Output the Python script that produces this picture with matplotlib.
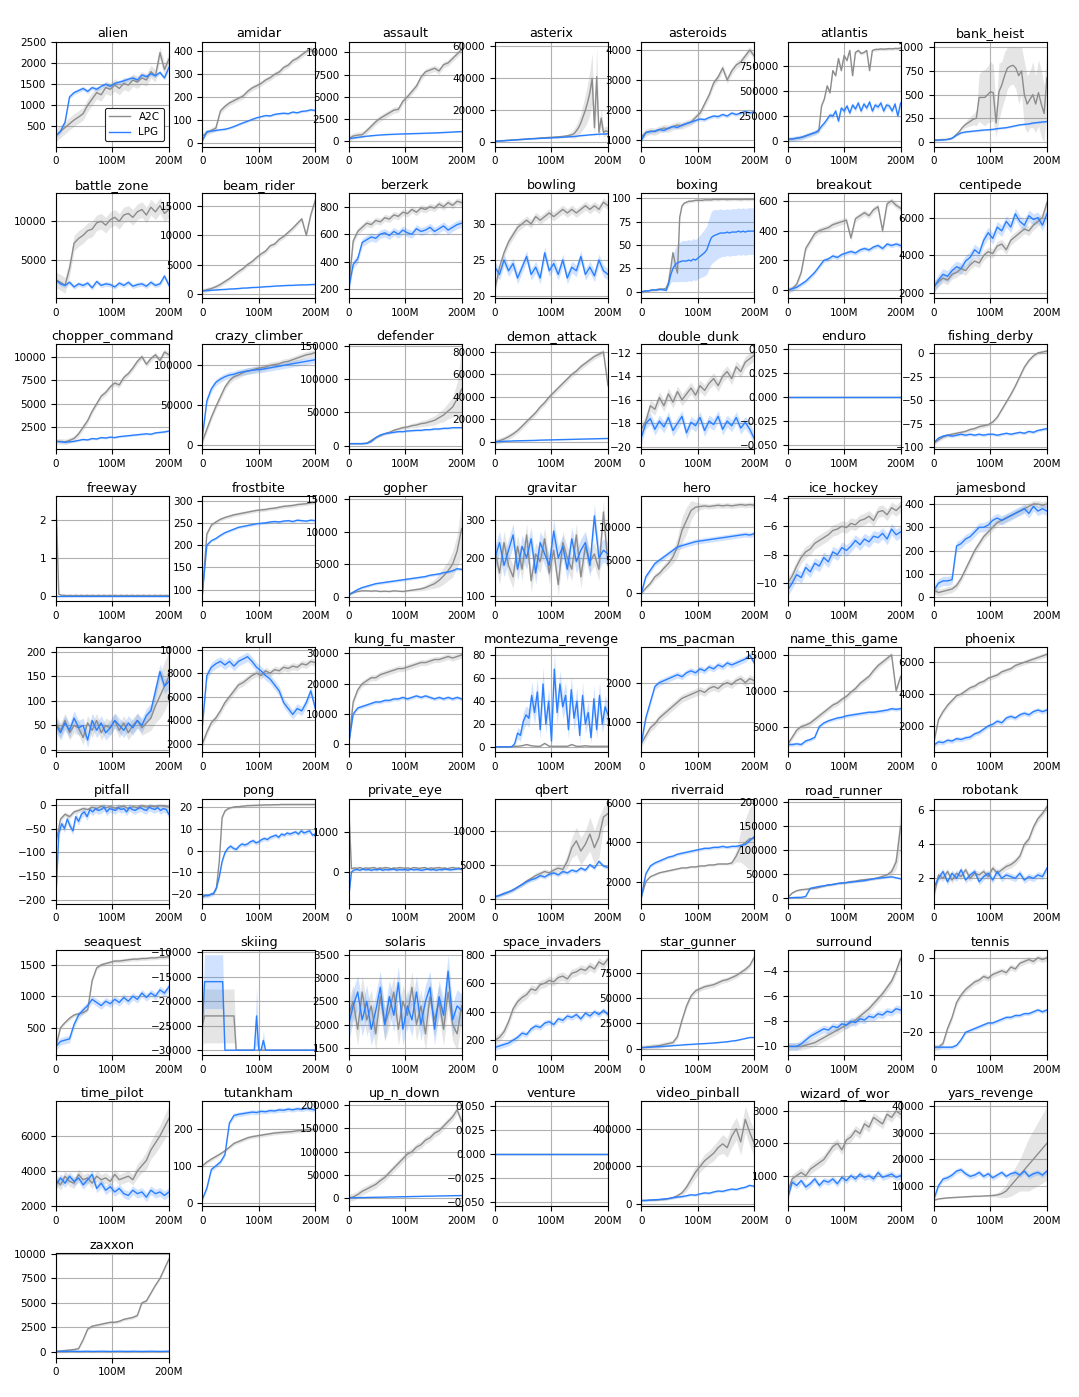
import numpy as np
import matplotlib
matplotlib.use("Agg")
import matplotlib.pyplot as plt

GAMES = ["alien", "amidar", "assault", "asterix", "asteroids", "atlantis", "bank_heist",
         "battle_zone", "beam_rider", "berzerk", "bowling", "boxing", "breakout", "centipede",
         "chopper_command", "crazy_climber", "defender", "demon_attack", "double_dunk", "enduro", "fishing_derby",
         "freeway", "frostbite", "gopher", "gravitar", "hero", "ice_hockey", "jamesbond",
         "kangaroo", "krull", "kung_fu_master", "montezuma_revenge", "ms_pacman", "name_this_game", "phoenix",
         "pitfall", "pong", "private_eye", "qbert", "riverraid", "road_runner", "robotank",
         "seaquest", "skiing", "solaris", "space_invaders", "star_gunner", "surround", "tennis",
         "time_pilot", "tutankham", "up_n_down", "venture", "video_pinball", "wizard_of_wor", "yars_revenge",
         "zaxxon"]
LEGEND_LABELS = ["A2C", "LPG"]
X_TICKS = [0, 100e6, 200e6]
X_TICK_LABELS = ["0", "100M", "200M"]
X_MAX = 200e6

# ---------------- data (each series spans 0..200M steps evenly) ----------------
alien_a2c = [280, 380, 470, 560, 650, 720, 800, 1000, 1150, 1300, 1250, 1420, 1380, 1480, 1400, 1520, 1480, 1600, 1550, 1650, 1600, 1800, 1700, 2250, 1850, 2100]
alien_lpg = [280, 380, 600, 1200, 1300, 1350, 1400, 1330, 1420, 1380, 1450, 1500, 1450, 1520, 1550, 1580, 1620, 1650, 1600, 1720, 1680, 1750, 1700, 1780, 1650, 1900]
alien_sd = [150, 50]

amidar_a2c = [30, 45, 55, 65, 140, 160, 175, 185, 195, 205, 225, 240, 250, 260, 275, 285, 300, 310, 330, 340, 360, 370, 385, 400, 410, 395]
amidar_lpg = [10, 50, 52, 55, 58, 60, 65, 72, 80, 88, 95, 103, 110, 115, 120, 118, 125, 128, 130, 128, 135, 132, 138, 140, 145, 142]
amidar_sd = [12, 5]

assault_a2c = [300, 600, 700, 750, 1200, 1700, 2200, 2600, 2900, 3200, 3500, 3600, 4500, 5000, 5600, 6200, 7200, 7800, 8000, 8200, 7900, 8600, 8800, 9300, 9800, 10300]
assault_lpg = [300, 380, 450, 520, 580, 630, 680, 720, 750, 780, 800, 820, 840, 850, 870, 880, 900, 920, 930, 950, 970, 1000, 1020, 1050, 1080, 1100]
assault_sd = [350, 60]

asterix_a2c = [500, 700, 650, 900, 850, 1100, 1050, 1300, 1250, 1450, 1500,
               1600, 1700, 1800, 1900, 2000, 2100, 2200, 2300, 2400, 2500,
               2600, 2700, 2800, 2900, 3000, 3100, 3200, 3300, 3400, 3500,
               3700, 3900, 4200, 4600, 5200, 7000, 9000, 12000, 16000, 20000,
               25000, 31000, 40000, 9000, 41000, 6000, 15000, 6000, 7000, 6500]
asterix_a2c_sd = [200, 200, 200, 200, 200, 200, 200, 200, 200, 200, 200,
                  300, 300, 300, 300, 300, 300, 300, 300, 300, 300,
                  400, 400, 450, 450, 500, 500, 600, 600, 700, 800,
                  900, 1000, 1500, 2000, 3000, 4000, 5000, 6000, 8000, 10000,
                  12000, 14000, 16000, 6000, 19000, 4000, 6000, 3000, 3000, 3000]
asterix_lpg = [400, 600, 800, 1000, 1200, 1400, 1600, 1800, 2000, 2100, 2300, 2400, 2500, 2700, 2800, 3000, 3200, 3400, 3600, 4000, 4200, 4500, 4700, 4900, 5000, 5200]
asterix_sd = [asterix_a2c_sd, 300]

asteroids_a2c = [1100, 1250, 1300, 1280, 1350, 1400, 1380, 1450, 1500, 1480, 1550, 1600, 1750, 1900, 2200, 2500, 2900, 3100, 3400, 3000, 3300, 3500, 3600, 3800, 4000, 3800]
asteroids_lpg = [1000, 1250, 1280, 1300, 1350, 1320, 1400, 1450, 1420, 1500, 1550, 1600, 1650, 1700, 1680, 1750, 1800, 1780, 1850, 1800, 1900, 1850, 1900, 1950, 1900, 1950]
asteroids_sd = [120, 60]

atlantis_a2c = [20000, 22000, 25000, 30000, 35000, 40000, 50000, 60000, 70000, 80000,
                90000, 100000, 350000, 420000, 550000, 480000, 700000, 650000, 820000, 700000,
                850000, 800000, 900000, 650000, 880000, 900000, 870000, 880000, 900000, 700000,
                900000, 910000, 910000, 915000, 912000, 915000, 918000, 915000, 920000, 918000, 925000]
atlantis_lpg = [20000, 22000, 25000, 30000, 35000, 40000, 50000, 60000, 70000, 80000,
                90000, 110000, 150000, 180000, 220000, 260000, 250000, 300000, 200000, 330000,
                300000, 350000, 280000, 360000, 320000, 380000, 300000, 370000, 330000, 390000,
                300000, 360000, 340000, 380000, 300000, 360000, 350000, 300000, 370000, 250000, 380000]
atlantis_sd = [15000, 25000]

bank_heist_a2c = [20, 20, 22, 25, 25, 28, 30, 50, 80, 110,
                  150, 180, 200, 220, 240, 250, 470, 470, 470, 500,
                  530, 520, 200, 530, 600, 700, 780, 800, 810, 780,
                  700, 750, 500, 400, 450, 500, 400, 520, 400, 300, 680]
bank_heist_a2c_sd = [2, 2, 2, 2, 2, 2, 3, 5, 10, 15,
                     20, 30, 40, 50, 60, 80, 250, 280, 300, 300,
                     320, 300, 150, 300, 250, 250, 220, 200, 200, 220,
                     300, 250, 350, 300, 300, 350, 300, 350, 350, 300, 300]
bank_heist_lpg = [15, 18, 20, 25, 40, 70, 95, 105, 110, 115, 120, 125, 128, 132, 140, 145, 150, 160, 170, 180, 185, 190, 200, 205, 210, 215]
bank_heist_sd = [bank_heist_a2c_sd, 10]

battle_zone_a2c = [2500, 2200, 1800, 4000, 7200, 7800, 8200, 8800, 9000, 9800, 10000, 9500, 10200, 10500, 10000, 10800, 11000, 10500, 11200, 11500, 10800, 11800, 11200, 12000, 11000, 11500]
battle_zone_lpg = [2500, 2000, 1800, 2200, 1600, 2000, 1800, 2100, 1500, 2300, 1800, 2000, 1900, 1600, 2100, 1800, 2200, 1700, 1900, 2000, 1700, 2200, 1800, 2000, 3000, 1800]
battle_zone_sd = [1000, 300]

beam_rider_a2c = [500, 700, 900, 1200, 1600, 2100, 2600, 3200, 3800, 4300, 5000, 5500, 6200, 6800, 7300, 8200, 8500, 9300, 9800, 10500, 11200, 12000, 12800, 10000, 13500, 16000]
beam_rider_lpg = [500, 550, 620, 650, 720, 750, 820, 850, 900, 980, 1000, 1080, 1100, 1150, 1220, 1250, 1320, 1350, 1400, 1440, 1450, 1500, 1520, 1530, 1580, 1600]
beam_rider_sd = [400, 80]

berzerk_a2c = [200, 550, 620, 650, 680, 670, 700, 690, 720, 710, 740, 730, 760, 750, 780, 760, 790, 780, 800, 790, 820, 800, 830, 810, 840, 830]
berzerk_lpg = [200, 380, 420, 540, 560, 580, 570, 600, 610, 590, 620, 600, 630, 610, 600, 640, 620, 630, 650, 620, 640, 660, 630, 650, 670, 680]
berzerk_sd = [25, 30]

bowling_a2c = [21, 24, 26, 27.5, 28.5, 29.5, 30, 30.5, 30, 31, 30.5, 31, 31.5, 31, 31.5, 32, 31.5, 32, 31.5, 32, 32.5, 32, 32.5, 32, 33, 32.5]
bowling_lpg = [24, 23, 25, 23.5, 24.5, 22.5, 24, 25.5, 23, 24, 22.5, 26, 23.5, 24.5, 23, 25, 22.5, 24, 23.5, 25.5, 23, 24, 22.8, 25, 23.5, 23]
bowling_sd = [0.6, 0.8]

boxing_a2c = [0, 0.5, 1, 1, 1.5, 2, 2, 2.5, 3, 3, 3,
              4, 10, 25, 42, 30, 20, 80, 92, 95, 96,
              97, 97, 97.5, 98, 98, 98, 98, 98.5, 98.5, 98.5,
              98.5, 99, 99, 98.8, 99, 99.2, 99, 98.8, 99, 99,
              99.2, 99, 99, 98.8, 99, 99.2, 99, 99, 99.2, 99]
boxing_lpg = [0, 0.5, 1, 1, 1.5, 2, 2, 2, 2.5, 2.5, 2,
              1.5, 8, 18, 25, 29, 31, 32, 33, 33, 33,
              34, 33, 35, 34, 36, 38, 40, 42, 45, 52,
              58, 60, 61, 62, 63, 63, 63, 64, 63, 64,
              64, 64, 65, 64, 65, 64, 65, 65, 65, 65]
boxing_lpg_sd = [0.5, 0.5, 0.5, 0.5, 0.5, 0.5, 0.5, 0.5, 0.5, 0.5, 0.5,
                 1, 3, 8, 14, 18, 20, 21, 22, 22, 22,
                 22, 22, 22, 22, 22, 23, 24, 25, 26, 27,
                 28, 28, 27, 26, 26, 25, 25, 25, 25, 25,
                 25, 25, 25, 25, 25, 25, 25, 25, 25, 25]
boxing_sd = [1.5, boxing_lpg_sd]

breakout_a2c = [0, 10, 40, 120, 280, 330, 380, 400, 410, 420, 440, 450, 460, 470, 350, 480, 500, 520, 500, 540, 560, 400, 580, 600, 570, 550]
breakout_lpg = [0, 10, 20, 40, 60, 90, 120, 160, 200, 210, 230, 220, 240, 250, 260, 250, 270, 280, 270, 290, 300, 280, 310, 300, 310, 300]
breakout_sd = [20, 15]

centipede_a2c = [2400, 2600, 2800, 2700, 3000, 3100, 3300, 3200, 3500, 3700, 3600, 4000, 4200, 4100, 4500, 4600, 4300, 4800, 5000, 5200, 5400, 5300, 5600, 5800, 6000, 6800]
centipede_lpg = [2300, 2700, 3000, 2900, 3200, 3400, 3300, 3700, 3900, 4300, 4100, 4800, 5200, 4900, 5500, 5300, 5800, 5500, 6200, 5800, 5600, 6100, 5900, 6000, 5600, 6200]
centipede_sd = [250, 300]

chopper_command_a2c = [1000, 1000, 950, 1100, 1300, 1800, 2500, 3200, 4200, 5000, 5800, 6200, 6800, 7200, 7000, 7800, 8200, 8800, 9500, 10000, 9200, 9800, 10200, 9600, 10500, 10200]
chopper_command_lpg = [1000, 950, 900, 950, 1000, 1100, 1200, 1150, 1300, 1250, 1400, 1350, 1450, 1400, 1500, 1550, 1600, 1650, 1700, 1750, 1800, 1750, 1900, 1950, 2000, 2100]
chopper_command_sd = [300, 100]

crazy_climber_a2c = [5000, 20000, 35000, 48000, 60000, 72000, 80000, 85000, 87000, 90000, 92000, 93000, 95000, 96000, 97000, 99000, 100000, 101000, 103000, 104000, 106000, 108000, 110000, 112000, 113000, 115000]
crazy_climber_lpg = [10000, 55000, 70000, 78000, 82000, 85000, 87000, 88000, 90000, 91000, 92000, 93000, 93500, 94000, 95000, 96000, 97000, 98000, 99000, 100000, 101000, 102000, 103000, 104000, 105000, 106000]
crazy_climber_sd = [4000, 4000]

defender_a2c = [3000, 3000, 3000, 3000, 3500, 8000, 12000, 15000, 18000, 20000, 23000, 25000, 27000, 28000, 30000, 31000, 33000, 34000, 36000, 38000, 42000, 46000, 52000, 58000, 70000, 85000]
defender_a2c_sd = [300, 300, 300, 300, 500, 1500, 2000, 2000, 2000, 2000, 2500, 2500, 3000, 3000, 3500, 4000, 4500, 5000, 6000, 7000, 8000, 10000, 12000, 15000, 25000, 60000]
defender_lpg = [3000, 3000, 3000, 3000, 3500, 6000, 12000, 16000, 18000, 19000, 20000, 21000, 21000, 22000, 22500, 23000, 23000, 24000, 24000, 25000, 25000, 26000, 26000, 27000, 27000, 27000]
defender_sd = [defender_a2c_sd, 1500]

demon_attack_a2c = [0, 1000, 2500, 4500, 7000, 10000, 14000, 18000, 22000, 26000, 31000, 35000, 40000, 44000, 48000, 52000, 56000, 60000, 63000, 67000, 70000, 73000, 76000, 78000, 80000, 50000]
demon_attack_lpg = [0, 300, 500, 600, 800, 900, 1000, 1100, 1200, 1300, 1500, 1600, 1700, 1800, 1900, 2000, 2100, 2200, 2300, 2400, 2500, 2600, 2700, 2800, 2900, 3000]
demon_attack_sd = [2500, 300]

double_dunk_a2c = [-18.5, -17.8, -16.5, -16.8, -15.8, -16.5, -15.5, -16.2, -15.3, -16, -15.5, -15, -15.6, -14.8, -15.2, -14.6, -14.2, -14.8, -14, -13.6, -14.2, -13.2, -13.6, -12.8, -12.5, -12.2]
double_dunk_lpg = [-19.2, -18, -17.6, -18.5, -17.8, -18.3, -17.5, -18.6, -18, -17.4, -18.8, -17.9, -18.2, -17.5, -18.6, -17.8, -18.1, -17.4, -18.5, -17.8, -18.2, -17.5, -18.4, -17.9, -18.5, -19.3]
double_dunk_sd = [0.5, 0.5]

enduro_a2c = [0.0, 0.0]
enduro_lpg = [0.0, 0.0]
enduro_sd = [0.0, 0.0]

fishing_derby_a2c = [-95, -92, -89, -87, -86, -85, -84, -83, -81, -80, -78, -77, -76, -73, -68, -60, -52, -44, -35, -25, -15, -8, -3, 0, 1, 2]
fishing_derby_lpg = [-95, -90, -88, -87, -88, -87, -86, -87, -86, -87, -86, -87, -86, -86, -87, -86, -85, -86, -85, -84, -85, -83, -84, -82, -81, -80]
fishing_derby_sd = [2, 1.5]

freeway_a2c = [2.5, 0.05, 0.02, 0.02, 0.01, 0.02, 0.01, 0.02, 0.01, 0.02,
               0.01, 0.02, 0.01, 0.02, 0.01, 0.02, 0.01, 0.02, 0.01, 0.02,
               0.01, 0.02, 0.01, 0.02, 0.01, 0.02, 0.01, 0.02, 0.01, 0.02,
               0.01, 0.02, 0.01, 0.02, 0.01, 0.02, 0.01, 0.02, 0.01, 0.02, 0.01]
freeway_lpg = [0.0, 0.0]
freeway_sd = [0.0, 0.0]

frostbite_a2c = [90, 225, 245, 252, 258, 262, 265, 268, 270, 272, 274, 276, 278, 279, 280, 282, 283, 285, 287, 288, 289, 291, 292, 293, 295, 296]
frostbite_lpg = [90, 200, 210, 215, 222, 228, 232, 236, 240, 242, 244, 246, 248, 249, 250, 252, 253, 252, 254, 255, 253, 256, 255, 254, 256, 255]
frostbite_sd = [4, 3]

gopher_a2c = [300, 600, 800, 900, 900, 850, 900, 800, 850, 800, 900, 850, 800, 900, 1000, 1100, 1200, 1400, 1700, 2000, 2500, 3200, 4000, 5000, 7000, 10500]
gopher_a2c_sd = [100, 100, 100, 100, 100, 100, 100, 100, 100, 100, 100, 100, 100, 150, 200, 250, 300, 400, 500, 700, 1000, 1300, 1500, 2000, 2500, 4300]
gopher_lpg = [300, 700, 1100, 1400, 1600, 1800, 2000, 2100, 2200, 2300, 2400, 2500, 2600, 2700, 2800, 2900, 3000, 3100, 3300, 3400, 3500, 3700, 3800, 4000, 4300, 4200]
gopher_sd = [gopher_a2c_sd, 200]

gravitar_a2c = [220, 160, 240, 180, 150, 230, 170, 260, 140, 210, 190, 250, 160, 220, 130, 240, 200, 170, 260, 150, 230, 190, 210, 170, 320, 180]
gravitar_lpg = [200, 240, 180, 220, 260, 170, 230, 200, 250, 160, 240, 210, 180, 270, 200, 230, 170, 250, 190, 220, 240, 180, 310, 200, 220, 210]
gravitar_sd = [30, 30]

hero_a2c = [0, 800, 1500, 2500, 3000, 3800, 4500, 5500, 7000, 9500, 11000, 12500, 13000, 13100, 13200, 13100, 13200, 13300, 13200, 13300, 13200, 13300, 13400, 13300, 13400, 13300]
hero_a2c_sd = [200, 300, 400, 500, 500, 600, 700, 1000, 1500, 2000, 2000, 1500, 800, 500, 400, 400, 400, 400, 400, 400, 400, 400, 400, 400, 400, 400]
hero_lpg = [0, 2500, 3500, 4500, 5000, 5500, 6000, 6500, 7000, 7200, 7400, 7600, 7800, 7900, 8000, 8100, 8200, 8300, 8400, 8500, 8600, 8700, 8800, 8900, 8800, 9000]
hero_sd = [hero_a2c_sd, 400]

ice_hockey_a2c = [-10, -9.5, -8.8, -8.2, -7.8, -7.6, -7.2, -7.0, -6.8, -6.6, -6.3, -6.2, -6.0, -6.1, -5.8, -5.9, -5.6, -5.5, -5.3, -5.6, -5.0, -4.9, -5.2, -4.7, -4.9, -4.6]
ice_hockey_lpg = [-10.5, -10, -9.4, -9.6, -8.9, -9.2, -8.6, -8.8, -8.2, -8.5, -7.8, -8.0, -7.5, -7.7, -7.4, -7.0, -7.3, -6.9, -7.1, -6.7, -6.8, -6.5, -6.9, -6.2, -6.6, -6.4]
ice_hockey_sd = [0.4, 0.4]

jamesbond_a2c = [30, 20, 25, 30, 35, 50, 80, 120, 160, 200, 230, 260, 280, 300, 320, 330, 340, 350, 360, 370, 380, 390, 400, 400, 395, 400]
jamesbond_lpg = [30, 60, 70, 70, 75, 220, 230, 250, 260, 280, 300, 300, 310, 330, 340, 330, 340, 350, 360, 370, 380, 360, 390, 370, 380, 370]
jamesbond_sd = [15, 20]

kangaroo_a2c = [55, 40, 60, 35, 50, 45, 25, 55, 40, 60, 35, 50, 45, 60, 40, 55, 35, 50, 60, 45, 55, 65, 90, 110, 130, 150]
kangaroo_a2c_sd = [15, 15, 15, 15, 15, 15, 15, 15, 15, 15, 15, 15, 15, 15, 15, 15, 15, 15, 15, 15, 20, 25, 35, 45, 50, 50]
kangaroo_lpg = [50, 35, 55, 40, 65, 45, 50, 20, 60, 40, 55, 35, 45, 60, 50, 40, 55, 45, 60, 50, 70, 80, 120, 160, 130, 140]
kangaroo_sd = [kangaroo_a2c_sd, 15]

krull_a2c = [2000, 3000, 3800, 4200, 4800, 5500, 6000, 6500, 7000, 7200, 7500, 7800, 8000, 7800, 8200, 8000, 8300, 8200, 8500, 8400, 8600, 8500, 8800, 8700, 9000, 8900]
krull_lpg = [3500, 7800, 8500, 8800, 9000, 8700, 9000, 8600, 9000, 9200, 9400, 9000, 8500, 8200, 7800, 7500, 7000, 6500, 5500, 5000, 4500, 5000, 4800, 5500, 6500, 5000]
krull_sd = [300, 400]

kung_fu_master_a2c = [0, 14000, 18000, 20000, 21000, 22000, 22000, 23000, 23500, 24000, 24500, 25000, 25000, 25500, 26000, 26500, 27000, 27000, 27500, 28000, 28000, 28500, 29000, 28500, 29000, 29500]
kung_fu_master_lpg = [0, 10000, 12000, 12500, 13000, 13500, 14000, 14000, 14500, 14500, 15000, 15000, 15500, 15000, 15500, 16000, 15500, 16000, 15500, 15000, 15500, 15000, 15500, 15000, 15500, 15000]
kung_fu_master_sd = [1000, 600]

montezuma_revenge_a2c = [0, 0, 0, 0, 0.5, 0.5, 1, 2, 1, 0.5, 0.5, 3, 0.5, 0.5, 0.5, 0.5, 0.5, 2, 0.5, 0.5, 1, 0.5, 0.5, 0.5, 0.5, 0.5]
montezuma_revenge_lpg = [0, 0, 0, 0, 0, 0, 0,
                         3, 12, 10, 22, 28, 25, 45, 30, 48, 15,
                         55, 20, 40, 5, 68, 30, 55, 35, 45, 15,
                         50, 25, 40, 10, 45, 20, 30, 8, 42, 15,
                         45, 20, 35, 28]
montezuma_revenge_lpg_sd = [0, 0, 0, 0, 0, 0, 0,
                            2, 5, 5, 8, 8, 8, 12, 10, 12, 8,
                            15, 8, 12, 5, 15, 10, 12, 10, 12, 8,
                            12, 10, 12, 6, 12, 8, 10, 5, 12, 8,
                            12, 8, 10, 10]
montezuma_revenge_sd = [0.5, montezuma_revenge_lpg_sd]

ms_pacman_a2c = [450, 650, 850, 950, 1100, 1200, 1300, 1400, 1500, 1600, 1650, 1700, 1750, 1800, 1750, 1850, 1900, 1850, 1950, 2000, 1950, 2050, 2100, 2000, 2100, 2050]
ms_pacman_lpg = [450, 1100, 1500, 1900, 2000, 2050, 2100, 2150, 2200, 2150, 2250, 2300, 2250, 2350, 2300, 2400, 2350, 2450, 2400, 2500, 2450, 2500, 2550, 2600, 2700, 2500]
ms_pacman_sd = [100, 80]

name_this_game_a2c = [2500, 3500, 4500, 5000, 5200, 5500, 6000, 6500, 7000, 7500, 8000, 8300, 8800, 9200, 9800, 10300, 11000, 11500, 12000, 12800, 13500, 14000, 14500, 15000, 10000, 12000]
name_this_game_lpg = [2500, 2500, 2600, 2500, 3000, 3200, 3500, 5000, 5500, 5800, 6000, 6200, 6300, 6500, 6600, 6700, 6800, 6900, 7000, 7000, 7100, 7200, 7300, 7500, 7400, 7500]
name_this_game_sd = [400, 250]

phoenix_a2c = [1000, 2400, 2900, 3300, 3600, 3900, 4000, 4200, 4400, 4500, 4700, 4800, 5000, 5100, 5200, 5400, 5500, 5600, 5800, 5900, 6000, 6100, 6200, 6300, 6400, 6500]
phoenix_lpg = [800, 1000, 950, 1100, 1050, 1200, 1150, 1250, 1300, 1500, 1600, 1800, 2000, 2100, 2300, 2200, 2500, 2600, 2500, 2700, 2800, 2700, 2900, 3000, 2900, 3000]
phoenix_sd = [150, 150]

pitfall_a2c = [-80, -30, -20, -25, -15, -12, -8, -10, -5, -8, -3, -6, -4, -7, -5, -3, -8, -4, -6, -2, -5, -3, -4, -2, -3, -5]
pitfall_lpg = [-190, -60, -40, -50, -30, -45, -55, -25, -35, -20,
               -15, -25, -10, -15, -8, -12, -10, -5, -15, -8,
               -10, -12, -6, -10, -8, -15, -5, -10, -12, -8,
               -6, -10, -12, -5, -8, -10, -6, -12, -8, -10, -20]
pitfall_sd = [5, 8]

pong_a2c = [-21, -20.5, -20.5, -20, -19.5, -17, -5, 15, 18, 19,
            19.5, 19.8, 20, 20, 20.2, 20.3, 20.5, 20.5, 20.6, 20.6,
            20.7, 20.7, 20.8, 20.8, 20.8, 20.9, 20.9, 20.9, 21, 21,
            21, 21, 21, 21, 21, 21, 21, 21, 21, 21, 21]
pong_lpg = [-21, -20.5, -20.5, -20, -19.5, -17, -12, -5, -1, 1,
            2, 1, 0.5, 2, 3, 2.5, 3, 4, 4.5, 3.5,
            4, 5, 5.5, 5, 6, 6.5, 7, 6, 7.5, 7,
            8, 7.5, 8, 8.5, 7.5, 9, 8, 8.5, 9, 7, 7.5]
pong_sd = [0.5, 1]

private_eye_a2c = [1700, 80, 100, 90, 110, 80, 100, 90, 100, 110,
                   80, 100, 90, 110, 100, 80, 100, 90, 110, 100,
                   90, 100, 80, 110, 100, 90, 100, 110, 80, 100,
                   90, 100, 110, 90, 100, 80, 100, 110, 90, 100, 60]
private_eye_lpg = [-650, 0, 50, 60, 40, 70, 50, 60, 40, 60,
                   50, 70, 40, 60, 50, 60, 70, 40, 60, 50,
                   60, 40, 70, 50, 60, 50, 40, 60, 70, 50,
                   60, 40, 60, 50, 70, 60, 50, 60, 70, 80, 60]
private_eye_sd = [30, 30]

qbert_a2c = [300, 500, 700, 1000, 1300, 1700, 2100, 2600, 3000, 3400, 3700, 4000, 3800, 4200, 4500, 4300, 5500, 7500, 8500, 7000, 8000, 9500, 7500, 9000, 12000, 12500]
qbert_a2c_sd = [100, 100, 150, 150, 200, 200, 300, 300, 300, 400, 400, 400, 400, 500, 600, 700, 1000, 1500, 2000, 2000, 2000, 2500, 2500, 3000, 1500, 1500]
qbert_lpg = [300, 500, 800, 1000, 1300, 1700, 2100, 2500, 2800, 3000, 3400, 3200, 3600, 3800, 3500, 4000, 3800, 4200, 4000, 4500, 4200, 5000, 4500, 5500, 4800, 4600]
qbert_sd = [qbert_a2c_sd, 300]

riverraid_a2c = [1200, 2000, 2250, 2350, 2450, 2500, 2550, 2600, 2650, 2700, 2700, 2750, 2750, 2800, 2800, 2850, 2850, 2900, 2900, 2900, 2950, 3300, 3800, 4000, 4200, 4200]
riverraid_a2c_sd = [50, 50, 50, 50, 50, 50, 50, 50, 50, 50, 50, 50, 50, 50, 50, 50, 50, 50, 50, 50, 100, 300, 800, 1200, 1600, 1800]
riverraid_lpg = [1200, 2400, 2800, 2950, 3050, 3150, 3250, 3300, 3400, 3450, 3500, 3550, 3600, 3650, 3700, 3700, 3750, 3750, 3800, 3750, 3800, 3800, 3850, 3900, 4100, 4300]
riverraid_sd = [riverraid_a2c_sd, 80]

road_runner_a2c = [0, 10000, 15000, 17000, 18000, 19000, 20000, 22000, 25000, 27000, 28000, 30000, 31000, 32000, 34000, 35000, 37000, 38000, 39000, 40000, 42000, 45000, 48000, 55000, 75000, 150000]
road_runner_a2c_sd = [500, 1500, 2000, 2000, 2000, 2000, 2000, 2000, 2500, 2500, 2500, 2500, 2500, 3000, 3000, 3000, 3000, 3000, 3000, 3000, 3500, 4000, 5000, 8000, 15000, 48000]
road_runner_lpg = [0, 500, 1000, 1000, 3000, 20000, 22000, 24000, 25000, 27000, 28000, 30000, 31000, 32000, 33000, 34000, 35000, 36000, 38000, 40000, 41000, 42000, 43000, 44000, 42000, 40000]
road_runner_sd = [road_runner_a2c_sd, 2000]

robotank_a2c = [1.0, 2.2, 2.0, 2.4, 1.9, 2.3, 2.1, 2.5, 2.0, 2.3, 2.2, 2.4, 2.1, 2.6, 2.3, 2.5, 2.7, 2.8, 3.0, 3.3, 4.0, 4.3, 5.0, 5.5, 5.8, 6.2]
robotank_lpg = [1.5, 2.0, 2.4, 1.8, 2.3, 2.0, 2.5, 1.9, 2.2, 2.4, 1.8, 2.1, 2.3, 1.9, 2.4, 2.0, 2.2, 2.1, 2.0, 2.3, 1.9, 2.1, 2.0, 2.2, 2.1, 2.6]
robotank_sd = [0.2, 0.2]

seaquest_a2c = [200, 500, 580, 650, 700, 720, 740, 780, 1250, 1450, 1500, 1520, 1540, 1560, 1560, 1570, 1580, 1590, 1590, 1600, 1600, 1610, 1610, 1620, 1620, 1630]
seaquest_lpg = [200, 280, 300, 320, 550, 700, 780, 850, 950, 900, 850, 920, 880, 950, 900, 980, 920, 1000, 950, 1050, 980, 1050, 1000, 1100, 1050, 1150]
seaquest_sd = [30, 60]

skiing_a2c = [-25000, -23000, -23000, -23000, -23000, -23000, -23000, -23000, -23000, -23000,
              -23000, -23000, -23000, -23000, -23000, -30000, -30000, -30000, -30000, -30000,
              -30000, -30000, -30000, -30000, -30000, -30000, -30000, -30000, -30000, -30000,
              -30000, -30000, -30000, -30000, -30000, -30000, -30000, -30000, -30000, -30000,
              -30000, -30000, -30000, -30000, -30000, -30000, -30000, -30000, -30000, -30000, -30000]
skiing_a2c_sd = [4000, 5500, 5500, 5500, 5500, 5500, 5500, 5500, 5500, 5500,
                 5500, 5500, 5500, 5500, 5500, 0, 0, 0, 0, 0,
                 0, 0, 0, 0, 0, 0, 0, 0, 0, 0,
                 0, 0, 0, 0, 0, 0, 0, 0, 0, 0,
                 0, 0, 0, 0, 0, 0, 0, 0, 0, 0, 0]
skiing_lpg = [-25000, -16000, -16000, -16000, -16000, -16000, -16000, -16000, -16000, -16000,
              -30000, -30000, -30000, -30000, -30000, -30000, -30000, -30000, -30000, -30000,
              -30000, -30000, -30000, -30000, -23000, -30000, -30000, -28000, -30000, -30000,
              -30000, -30000, -30000, -30000, -30000, -30000, -30000, -30000, -30000, -30000,
              -30000, -30000, -30000, -30000, -30000, -30000, -30000, -30000, -30000, -30000, -30000]
skiing_lpg_sd = [3000, 5500, 5500, 5500, 5500, 5500, 5500, 5500, 5500, 5500,
                 0, 0, 0, 0, 0, 0, 0, 0, 0, 0,
                 0, 0, 0, 0, 6000, 0, 0, 2000, 0, 0,
                 0, 0, 0, 0, 0, 0, 0, 0, 0, 0,
                 0, 0, 0, 0, 0, 0, 0, 0, 0, 0, 0]
skiing_sd = [skiing_a2c_sd, skiing_lpg_sd]

solaris_a2c = [2200, 2500, 1900, 2700, 2100, 2400, 1800, 2600, 2000, 2300, 2700, 1900, 2500, 2200, 2800, 2000, 2400, 1800, 2600, 2100, 2500, 1900, 2700, 2000, 1800, 2400]
solaris_lpg = [2000, 2400, 2700, 2100, 2500, 1900, 2300, 2800, 2000, 2600, 2200, 2900, 1900, 2400, 2100, 2700, 2000, 2500, 2800, 1900, 2600, 2200, 3150, 2100, 2400, 2300]
solaris_sd = [350, 350]

space_invaders_a2c = [200, 220, 260, 330, 420, 470, 500, 520, 560, 550, 590, 600, 620, 610, 640, 650, 630, 670, 680, 700, 690, 720, 700, 750, 730, 770]
space_invaders_lpg = [150, 160, 170, 180, 200, 220, 250, 240, 280, 300, 290, 320, 330, 310, 350, 340, 370, 360, 380, 350, 390, 370, 400, 380, 410, 380]
space_invaders_sd = [30, 20]

star_gunner_a2c = [1000, 1500, 2000, 2500, 3000, 4000, 5000, 6000, 12000, 28000, 42000, 52000, 57000, 59000, 61000, 62000, 63000, 65000, 67000, 68000, 70000, 72000, 75000, 78000, 82000, 90000]
star_gunner_lpg = [1000, 1200, 1500, 1800, 2000, 2300, 2600, 3000, 3300, 3600, 4000, 4200, 4500, 4800, 5000, 5300, 5600, 6000, 6400, 6800, 7500, 8000, 9000, 10000, 11000, 11000]
star_gunner_sd = [2500, 500]

surround_a2c = [-10, -10, -10, -10, -9.9, -9.8, -9.7, -9.5, -9.3, -9.1, -8.9, -8.7, -8.5, -8.3, -8.1, -7.9, -7.6, -7.3, -7.0, -6.6, -6.2, -5.8, -5.3, -4.8, -4.0, -3.0]
surround_lpg = [-10, -10, -10, -9.8, -9.5, -9.2, -9.0, -8.8, -8.6, -8.7, -8.4, -8.5, -8.2, -8.3, -8.0, -8.1, -7.8, -7.9, -7.6, -7.7, -7.4, -7.5, -7.2, -7.3, -7.0, -7.1]
surround_sd = [0.3, 0.3]

tennis_a2c = [-24, -24, -23, -19, -16, -12, -10, -8.5, -7.5, -6.5, -6, -5, -5.5, -4.5, -4, -3.5, -4, -2.5, -3, -1.5, -1, -0.5, -1, 0, -0.5, 0]
tennis_lpg = [-24, -24, -24, -24, -24, -23.5, -22, -20, -19.5, -19, -18.5, -18, -17.5, -17.5, -17, -16.5, -16, -16, -15.5, -15.5, -15, -15, -14.5, -14, -14.5, -14]
tennis_sd = [0.8, 0.5]

time_pilot_a2c = [3500, 3200, 3700, 3400, 3300, 3800, 3500, 3600, 3300, 3700, 3500, 3600, 3400, 3800, 3500, 3600, 3700, 3500, 4000, 4300, 4600, 5200, 5600, 6000, 6500, 7000]
time_pilot_a2c_sd = [300, 300, 300, 300, 300, 300, 300, 300, 300, 300, 300, 300, 300, 300, 300, 300, 300, 300, 400, 400, 500, 500, 600, 600, 700, 700]
time_pilot_lpg = [3200, 3600, 3300, 3700, 3400, 3600, 3200, 3500, 3800, 3000, 3300, 2900, 3100, 2800, 3000, 2700, 2600, 2900, 2700, 2800, 2500, 2900, 2700, 2800, 2600, 2800]
time_pilot_sd = [time_pilot_a2c_sd, 250]

tutankham_a2c = [100, 110, 118, 125, 132, 140, 150, 160, 165, 170, 175, 178, 180, 182, 184, 186, 188, 189, 190, 191, 192, 194, 195, 196, 197, 198]
tutankham_lpg = [10, 40, 90, 100, 110, 130, 215, 235, 238, 240, 242, 244, 243, 246, 245, 248, 247, 250, 249, 252, 250, 253, 251, 254, 252, 250]
tutankham_sd = [5, 6]

up_n_down_a2c = [1000, 3000, 8000, 15000, 20000, 25000, 30000, 38000, 45000, 55000, 65000, 75000, 85000, 95000, 100000, 110000, 115000, 125000, 130000, 140000, 145000, 155000, 165000, 175000, 190000, 165000]
up_n_down_lpg = [1000, 1200, 1500, 1600, 1900, 2000, 2300, 2400, 2600, 2900, 3000, 3300, 3400, 3600, 3900, 4000, 4200, 4500, 4600, 4800, 5100, 5200, 5400, 5700, 5800, 6000]
up_n_down_sd = [8000, 500]

venture_a2c = [0.0, 0.0]
venture_lpg = [0.0, 0.0]
venture_sd = [0.0, 0.0]

video_pinball_a2c = [20000, 20000, 22000, 21000, 24000, 25000, 30000, 35000, 45000, 60000, 90000, 130000, 170000, 200000, 230000, 250000, 270000, 300000, 320000, 300000, 360000, 400000, 330000, 450000, 380000, 320000]
video_pinball_a2c_sd = [3000, 3000, 3000, 3000, 4000, 5000, 6000, 8000, 10000, 15000, 20000, 25000, 30000, 30000, 35000, 35000, 40000, 40000, 50000, 50000, 60000, 60000, 70000, 70000, 70000, 70000]
video_pinball_lpg = [20000, 20000, 22000, 24000, 25000, 28000, 30000, 35000, 38000, 40000, 45000, 50000, 48000, 55000, 60000, 58000, 65000, 70000, 68000, 75000, 80000, 78000, 85000, 90000, 100000, 95000]
video_pinball_sd = [video_pinball_a2c_sd, 6000]

wizard_of_wor_a2c = [500, 900, 1000, 1100, 1000, 1200, 1300, 1400, 1500, 1700, 1900, 2000, 1800, 2100, 2200, 2400, 2300, 2600, 2500, 2800, 2700, 2600, 2900, 2800, 3000, 2900]
wizard_of_wor_lpg = [300, 800, 700, 850, 650, 750, 900, 700, 850, 800, 900, 750, 950, 850, 1000, 900, 1050, 950, 1000, 900, 1100, 950, 1000, 1050, 950, 1000]
wizard_of_wor_sd = [150, 100]

yars_revenge_a2c = [4500, 5000, 5200, 5400, 5500, 5600, 5700, 5800, 5900, 6000, 6000, 6100, 6200, 6300, 6500, 7000, 8000, 10000, 12000, 14000, 16000, 18000, 20000, 22000, 24000, 26000]
yars_revenge_a2c_sd = [200, 200, 200, 200, 200, 200, 200, 200, 200, 200, 200, 200, 300, 500, 800, 1500, 2500, 4000, 5000, 6000, 8000, 10000, 11000, 12000, 13000, 14000]
yars_revenge_lpg = [5000, 10000, 12500, 13000, 14000, 15500, 16000, 14500, 13500, 14000, 15000, 13500, 14500, 13000, 14000, 15000, 13500, 14500, 15000, 14000, 15500, 13500, 14500, 15000, 14000, 15500]
yars_revenge_sd = [yars_revenge_a2c_sd, 1000]

zaxxon_a2c = [0, 50, 100, 150, 200, 300, 1200, 2300, 2600, 2700, 2800, 2900, 3000, 3000, 3100, 3300, 3400, 3500, 3700, 5000, 5200, 6000, 6800, 7500, 8500, 9500]
zaxxon_lpg = [0, 20, 10, 30, 20, 10, 20, 30, 10, 20, 30, 20, 10, 20, 30, 20, 10, 30, 20, 10, 20, 30, 20, 10, 20, 30]
zaxxon_sd = [150, 30]

# ---------------- plotting ----------------
COLORS = ["#8c8c8c", "#2a7fff"]

plt.rcParams["font.family"] = ["DejaVu Sans"]
fig, axes = plt.subplots(9, 7, figsize=(10.79, 13.97), dpi=100)
fig.subplots_adjust(left=0.0519, right=0.9703, top=0.9702, bottom=0.0281,
                    wspace=0.295, hspace=0.442)

G = globals()
for i, ax in enumerate(axes.flat):
    if i >= len(GAMES):
        ax.remove()
        continue
    g = GAMES[i]
    series = [G[g + "_a2c"], G[g + "_lpg"]]
    sds = G[g + "_sd"]
    prepared = []
    for vals, sd in zip(series, sds):
        v = np.asarray(vals, dtype=float)
        x = np.linspace(0, X_MAX, len(v))
        s = np.asarray(sd, dtype=float)
        prepared.append((x, v, s))
    for (x, v, s), c in zip(prepared, COLORS):
        ax.fill_between(x, v - s, v + s, color=c, alpha=0.22, linewidth=0, zorder=1)
    for (x, v, s), c, lab in zip(prepared, COLORS, LEGEND_LABELS):
        ax.plot(x, v, color=c, lw=1.0, label=lab, zorder=2)
    ax.set_xlim(0, X_MAX)
    ax.set_xticks(X_TICKS)
    ax.set_xticklabels(X_TICK_LABELS)
    ax.ticklabel_format(axis="y", style="plain", useOffset=False)
    ax.tick_params(labelsize=7.5, length=3.5, width=0.8)
    ax.grid(True, color="#b0b0b0", linewidth=0.8)
    ax.set_axisbelow(True)
    ax.set_title(g, fontsize=9.2, pad=3)
    for sp in ax.spines.values():
        sp.set_linewidth(0.8)
    if i == 0:
        leg = ax.legend(loc="lower right", fontsize=7.5, framealpha=1.0,
                        edgecolor="#222222", handlelength=2.0, borderpad=0.4)
        leg.get_frame().set_linewidth(0.8)

fig.savefig("out.png", dpi=100)
